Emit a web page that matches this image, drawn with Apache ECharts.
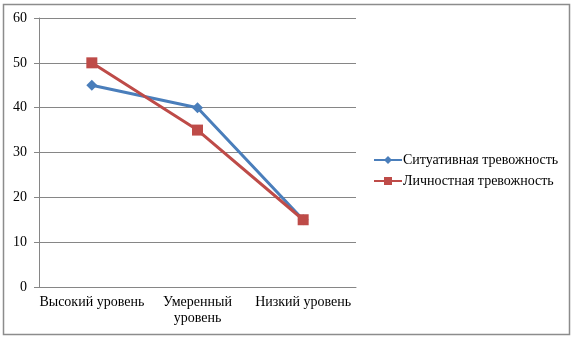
<!DOCTYPE html>
<html>
<head>
<meta charset="utf-8">
<script src="https://cdn.jsdelivr.net/npm/echarts@6/dist/echarts.min.js"></script>
<style>
  html, body { margin: 0; padding: 0; background: #fff; }
  #chart { width: 573px; height: 338px; }
</style>
</head>
<body>
<div id="chart"></div>
<script>
// уровни тревожности
const categories = ['Высокий уровень', 'Умеренный уровень', 'Низкий уровень']
const situational = [45, 40, 15]
const personal = [50, 35, 15]
const yTicks = [0, 10, 20, 30, 40, 50, 60]

const chart = echarts.init(document.getElementById('chart'))
const font = 'Liberation Serif, Times New Roman, serif'

const option = {
  animation: false,
  textStyle: { fontFamily: font },
  graphic: [
    {
      type: 'rect',
      shape: { x: 3.5, y: 4.5, width: 566, height: 330 },
      style: { fill: 'none', stroke: '#8c8c8c', lineWidth: 1.5 }
    }
  ],
  grid: { left: 39, top: 18, right: 217, bottom: 51 },
  legend: {
    orient: 'vertical',
    left: 368,
    top: 148,
    itemGap: 7,
    itemWidth: 28,
    itemHeight: 10,
    textStyle: { fontFamily: font, fontSize: 14, color: '#000', padding: [0, 0, 0, -4] },
    data: ['Ситуативная тревожность', 'Личностная тревожность']
  },
  xAxis: {
    type: 'category',
    data: categories,
    boundaryGap: true,
    axisLine: { lineStyle: { color: '#868686' } },
    axisTick: { length: 4, lineStyle: { color: '#868686' } },
    axisLabel: {
      fontFamily: font,
      fontSize: 14,
      color: '#000',
      margin: 7,
      lineHeight: 16,
      interval: 0,
      // длинные подписи переносим по пробелу
      formatter: function(value) {
        return value.length > 15 ? value.replace(' ', '\n') : value
      }
    }
  },
  yAxis: {
    type: 'value',
    min: yTicks[0],
    max: yTicks[yTicks.length - 1],
    interval: 10,
    axisLine: { show: true, lineStyle: { color: '#868686' } },
    axisTick: { show: true, length: 5, lineStyle: { color: '#868686' } },
    splitLine: { lineStyle: { color: '#868686' } },
    axisLabel: { fontFamily: font, fontSize: 14, color: '#000', margin: 12 }
  },
  series: [
    {
      name: 'Ситуативная тревожность',
      type: 'line',
      data: situational,
      symbol: 'diamond',
      symbolSize: 11,
      lineStyle: { color: '#4A7EBB', width: 3 },
      itemStyle: { color: '#4A7EBB' }
    },
    {
      name: 'Личностная тревожность',
      type: 'line',
      data: personal,
      symbol: 'rect',
      symbolSize: 11,
      lineStyle: { color: '#BE4B48', width: 3 },
      itemStyle: { color: '#BE4B48' }
    }
  ]
}

chart.setOption(option)
</script>
</body>
</html>
